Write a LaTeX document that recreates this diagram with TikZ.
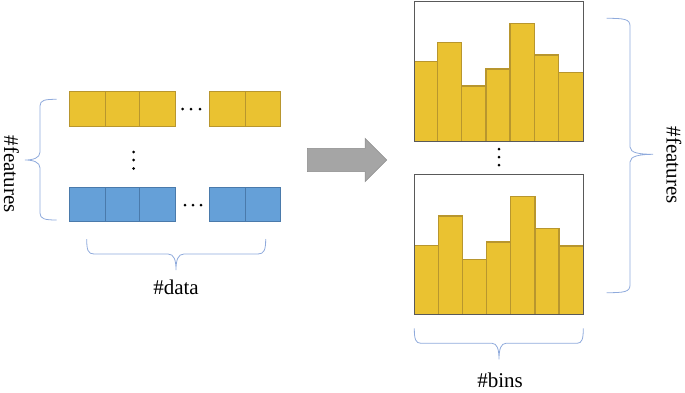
\documentclass[tikz,border=0pt]{standalone}
\usepackage{fontspec}
\setmainfont{Liberation Serif}
\definecolor{gold}{HTML}{EAC231}
\definecolor{goldedge}{HTML}{B8962E}
\definecolor{blu}{HTML}{65A0D8}
\definecolor{bluedge}{HTML}{4A7AAB}
\definecolor{bracec}{HTML}{8FAADC}
\definecolor{arrowc}{HTML}{A5A5A5}
\definecolor{framec}{HTML}{595959}
\tikzset{
  ycell/.style={draw=goldedge,fill=gold,line width=1pt},
  bcell/.style={draw=bluedge,fill=blu,line width=1pt},
  bar/.style={draw=goldedge,fill=gold,line width=1.1pt},
  frame/.style={draw=framec,line width=1pt},
  brace/.style={draw=bracec,line width=0.8pt},
  dot/.style={circle,fill=black,inner sep=0pt,minimum size=3pt},
  lbl/.style={font=\fontsize{21}{24}\selectfont,inner sep=0pt},
}
\begin{document}
\begin{tikzpicture}[x=1pt,y=-1pt]
\useasboundingbox (0,0) rectangle (685,392);
% left rows
\foreach \a/\b [count=\i] in {69/105,105/139.5,139.5/175,209.5/245,245/280}{
  \path[ycell] (\a,91.7) rectangle (\b,126);
  \path[bcell] (\a,187.7) rectangle (\b,221.7);
}
\foreach \x in {182.7,191,200}{ \node[dot] at (\x,109) {}; }
\foreach \x in {185,193,201}{ \node[dot] at (\x,205) {}; }
\foreach \y in {152,160,168.5}{ \node[dot] at (133.7,\y) {}; }
% left braces
\path[brace] (56.7,99.3) .. controls (45,99.3) and (40,100) .. (40,106) -- (40,152) .. controls (40,158) and (33,160) .. (25,160) .. controls (33,160) and (40,162) .. (40,168) -- (40,213) .. controls (40,219) and (45,220) .. (56.7,220);
\node[lbl,rotate=-90] (featL) at (11.5,174) {\#features};
\path[brace] (86.7,239) .. controls (86.7,250) and (88,254) .. (94,254) -- (168,254) .. controls (174,254) and (176,260) .. (176,270) .. controls (176,260) and (178,254) .. (184,254) -- (258,254) .. controls (264,254) and (265.7,250) .. (265.7,239);
\node[lbl,anchor=base] (data) at (176,294) {\#data};
% arrow
\path[fill=arrowc,draw=arrowc!85!black,line width=0.5pt] (307.3,148.3) -- (365,148.3) -- (365,138.3) -- (386.7,160) -- (365,181.7) -- (365,171.7) -- (307.3,171.7) -- cycle;
% top histogram
\foreach \a/\b/\t in {414.3/437.7/61.7, 437.7/461.7/42.7, 461.7/486/86, 486/510/69, 510/534.3/23.3, 534.3/558.3/55, 558.3/583.3/72.3}{
  \path[bar] (\a,\t) rectangle (\b,141.7);
}
\path[frame] (414.3,1) rectangle (583.3,141.7);
% bottom histogram
\foreach \a/\b/\t in {414.3/438.3/245.3, 438.3/462.7/216, 462.7/486.7/259.3, 486.7/510.7/242, 510.7/535/196.7, 535/559/228.3, 559/583.3/246}{
  \path[bar] (\a,\t) rectangle (\b,314.3);
}
\path[frame] (414.3,174) rectangle (583.3,314.3);
\foreach \y in {149,157,165}{ \node[dot] at (499,\y) {}; }
% right braces
\path[brace] (606.7,18.3) .. controls (624,18.3) and (630,19) .. (630,26) -- (630,147) .. controls (630,153) and (640,154.3) .. (653,154.3) .. controls (640,154.3) and (630,156) .. (630,162) -- (630,285) .. controls (630,292) and (624,292.7) .. (606.7,292.7);
\node[lbl,rotate=-90] (featR) at (674,165) {\#features};
\path[brace] (414.3,328.3) .. controls (414.3,339) and (415.5,343.3) .. (421,343.3) -- (492,343.3) .. controls (497,343.3) and (499,349) .. (499,359.3) .. controls (499,349) and (501,343.3) .. (506,343.3) -- (577,343.3) .. controls (582,343.3) and (583.3,339) .. (583.3,328.3);
\node[lbl,anchor=base] (bins) at (500,387.5) {\#bins};
\end{tikzpicture}
\end{document}
